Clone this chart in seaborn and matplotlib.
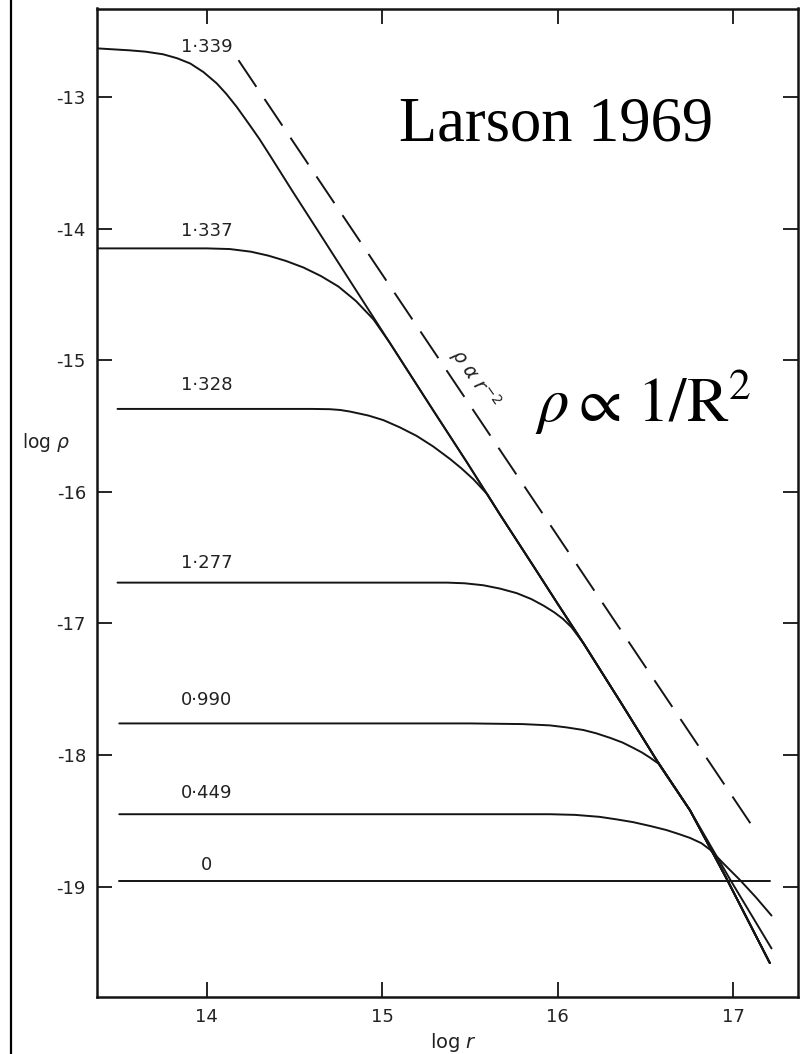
import matplotlib
matplotlib.use("Agg")
import matplotlib.pyplot as plt
from matplotlib.lines import Line2D
import pandas as pd
import seaborn as sns

# Larson (1969): density profiles log rho vs log r of a collapsing cloud,
# each labelled by its time in units of the free-fall time.

# outer envelope that the late profiles share once they have joined it
env_r = [15.29, 15.48, 15.67, 15.86, 16.00, 16.147, 16.36, 16.565, 16.755, 16.96, 17.21]
env_rho = [-15.38, -15.77, -16.17, -16.56, -16.85, -17.15, -17.60, -18.04, -18.42, -18.93, -19.58]

# t = 1.339
r_1339 = [13.373, 13.56, 13.65, 13.75, 13.83, 13.905, 13.98, 14.055, 14.11, 14.17,
          14.245, 14.30, 14.36, 14.49, 14.63, 14.82, 15.044]
rho_1339 = [-12.63, -12.645, -12.655, -12.675, -12.705, -12.745, -12.81, -12.895, -12.975, -13.075,
            -13.215, -13.32, -13.445, -13.72, -14.01, -14.405, -14.87]

# t = 1.337
r_1337 = [13.373, 13.70, 14.00, 14.13, 14.25, 14.35, 14.45, 14.55, 14.65, 14.75, 14.85, 14.95, 15.044]
rho_1337 = [-14.15, -14.15, -14.15, -14.155, -14.175, -14.205, -14.245, -14.295, -14.36, -14.44,
            -14.55, -14.69, -14.87]

# t = 1.328
r_1328 = [13.49, 14.00, 14.60, 14.70, 14.76, 14.816, 14.92, 15.006, 15.10, 15.196, 15.29,
          15.386, 15.45, 15.52, 15.60, 15.67]
rho_1328 = [-15.37, -15.37, -15.37, -15.372, -15.378, -15.39, -15.42, -15.455, -15.51, -15.575,
            -15.655, -15.75, -15.82, -15.905, -16.02, -16.17]

# t = 1.277
r_1277 = [13.49, 14.00, 14.50, 15.00, 15.37, 15.47, 15.576, 15.67, 15.767, 15.85, 15.92,
          15.98, 16.03, 16.08, 16.147]
rho_1277 = [-16.69, -16.69, -16.69, -16.69, -16.69, -16.695, -16.71, -16.735, -16.77, -16.815,
            -16.865, -16.915, -16.965, -17.03, -17.15]

# t = 0.990
r_0990 = [13.50, 14.50, 15.50, 15.80, 15.957, 16.05, 16.147, 16.22, 16.30, 16.37, 16.43,
          16.48, 16.527, 16.575, 16.755, 16.99, 17.22]
rho_0990 = [-17.76, -17.76, -17.76, -17.765, -17.775, -17.79, -17.81, -17.835, -17.87, -17.905,
            -17.945, -17.98, -18.02, -18.065, -18.42, -18.96, -19.47]

# t = 0.449
r_0449 = [13.50, 14.50, 15.50, 15.957, 16.10, 16.24, 16.34, 16.43, 16.53, 16.62, 16.69,
          16.755, 16.82, 16.87, 16.95, 17.04, 17.13, 17.22]
rho_0449 = [-18.45, -18.45, -18.45, -18.45, -18.455, -18.47, -18.49, -18.51, -18.54, -18.57,
            -18.60, -18.63, -18.67, -18.72, -18.83, -18.95, -19.08, -19.22]

# t = 0 (initial uniform cloud)
r_0 = [13.50, 15.00, 16.00, 17.21]
rho_0 = [-18.96, -18.96, -18.96, -18.96]

# reference power law rho ~ r^-2
slope_r = [14.18, 17.10]
slope_rho = [-12.72, -18.52]

time_labels = ["1·339", "1·337", "1·328", "1·277", "0·990", "0·449", "0"]
x_ticks = [14, 15, 16, 17]
y_ticks = [-13, -14, -15, -16, -17, -18, -19]

# label placement (log rho) just above each profile
label_rho = [-12.616, -14.02, -15.185, -16.54, -17.58, -18.285, -18.836]

profiles = [
    (r_1339 + env_r, rho_1339 + env_rho),
    (r_1337 + env_r, rho_1337 + env_rho),
    (r_1328 + env_r[3:], rho_1328 + env_rho[3:]),
    (r_1277 + env_r[6:], rho_1277 + env_rho[6:]),
    (r_0990, rho_0990),
    (r_0449, rho_0449),
    (r_0, rho_0),
]

frames = [pd.DataFrame({"log_r": r, "log_rho": rho, "time": name})
          for name, (r, rho) in zip(time_labels, profiles)]
df = pd.concat(frames, ignore_index=True)

sns.set_style("ticks")
plt.rcParams["font.family"] = ["DejaVu Sans"]
plt.rcParams["mathtext.fontset"] = "dejavusans"

ink = "#141414"
fig = plt.figure(figsize=(8.01, 10.54), dpi=100)
ax = fig.add_axes([97 / 801, 1 - 997 / 1054, 701 / 801, 988.5 / 1054])

sns.lineplot(data=df, x="log_r", y="log_rho", units="time", estimator=None,
             sort=False, color=ink, lw=1.4, ax=ax, legend=False,
             solid_joinstyle="round")
sns.lineplot(x=slope_r, y=slope_rho, color=ink, lw=1.4, ax=ax, legend=False)
ax.lines[-1].set_dashes([16.5, 7.5])

for lab, y in zip(time_labels, label_rho):
    ax.text(14.0, y, lab, ha="center", va="center", fontsize=13, color="#222222")

ax.text(15.53, -15.14, r"$\rho\ \alpha\ r^{-2}$", rotation=-55,
        rotation_mode="anchor", ha="center", va="center", fontsize=14, color="#222222")

ax.text(15.095, -13.327, "Larson 1969", family="Liberation Serif", fontsize=45,
        ha="left", va="baseline", color="black")
ax.text(15.871, -15.467, r"$\rho \propto \,1/\mathrm{R}^2$", math_fontfamily="stix",
        fontsize=45, ha="left", va="baseline", color="black")

ax.set_xlim(13.373, 17.371)
ax.set_ylim(-19.839, -12.327)
ax.set_xticks(x_ticks)
ax.set_xticklabels([str(v) for v in x_ticks])
ax.set_yticks(y_ticks)
ax.set_yticklabels([f"-{abs(v)}" for v in y_ticks])
ax.tick_params(direction="in", length=10.5, width=1.3, top=True, right=True,
               labelsize=13, pad=8, color=ink, labelcolor="#222222")
for side in ax.spines.values():
    side.set_linewidth(1.8)
    side.set_color(ink)
ax.set_xlabel("")
ax.set_ylabel("")

fig.text(46 / 801, 1 - 443 / 1054, r"log $\rho$", ha="center", va="center",
         fontsize=13.5, color="#222222")
fig.text(453 / 801, 1 - 1043 / 1054, r"log $r$", ha="center", va="center",
         fontsize=14, color="#222222")

fig.add_artist(Line2D([10.5 / 801, 10.5 / 801], [0, 1], transform=fig.transFigure,
                      color="black", lw=1.6))

fig.savefig("out.png", dpi=100)
